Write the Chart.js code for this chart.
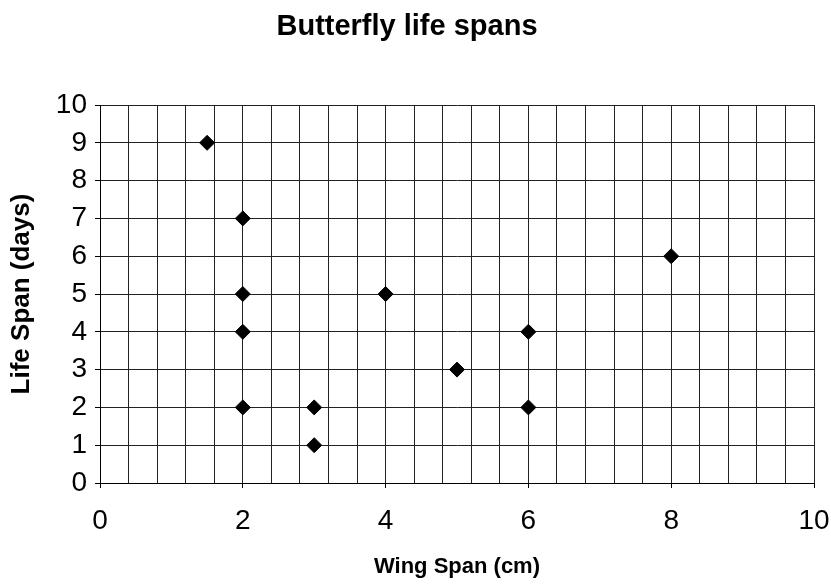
<!DOCTYPE html>
<html>
<head>
<meta charset="utf-8">
<script src="https://cdn.jsdelivr.net/npm/chart.js@4/dist/chart.umd.min.js"></script>
<style>
  html, body { margin: 0; padding: 0; background: #fff; }
  #wrap { width: 831px; height: 584px; position: relative; }
</style>
</head>
<body>
<div id="wrap"><canvas id="c" width="831" height="584"></canvas></div>
<script>
const chartTitle = "Butterfly life spans";
const xAxisTitle = "Wing Span (cm)";
const yAxisTitle = "Life Span (days)";
const wingSpan = [1.5, 2, 2, 2, 2, 3, 3, 4, 5, 6, 6, 8];
const lifeSpan = [9, 7, 5, 4, 2, 2, 1, 5, 3, 4, 2, 6];
const xMin = 0, xMax = 10, xGridStep = 0.4, xLabelStep = 2;
const yMin = 0, yMax = 10, yStep = 1;

const points = wingSpan.map((x, i) => ({ x: x, y: lifeSpan[i] }));
const FONT = "'Liberation Sans', Arial, sans-serif";

function isLabelled(v) {
  const q = v / xLabelStep;
  return Math.abs(q - Math.round(q)) < 1e-6;
}

new Chart(document.getElementById('c'), {
  type: 'scatter',
  data: {
    datasets: [{
      data: points,
      pointStyle: 'rectRot',
      pointRadius: 7.5,
      pointHoverRadius: 7.5,
      backgroundColor: '#000',
      borderColor: '#000',
      borderWidth: 1
    }]
  },
  options: {
    responsive: false,
    animation: false,
    layout: { padding: { left: 0, right: 17, top: 0, bottom: 0 } },
    plugins: {
      legend: { display: false },
      tooltip: { enabled: false },
      title: {
        display: true,
        text: chartTitle,
        color: '#000',
        font: { family: FONT, size: 29, weight: 'bold', lineHeight: 1.2 },
        padding: { top: 10, bottom: 60.2 }
      }
    },
    scales: {
      x: {
        type: 'linear',
        min: xMin,
        max: xMax,
        afterFit: s => { s.height = 101; s.paddingLeft = 0; s.paddingRight = 0; },
        ticks: {
          stepSize: xGridStep,
          autoSkip: false,
          maxRotation: 0,
          color: '#000',
          padding: 16,
          font: { family: FONT, size: 28, lineHeight: 1.2 },
          callback: v => isLabelled(v) ? String(Math.round(v)) : ''
        },
        grid: {
          color: '#222',
          lineWidth: 1,
          tickLength: 5,
          tickColor: ctx => (ctx.tick && isLabelled(ctx.tick.value)) ? '#000' : 'rgba(0,0,0,0)'
        },
        border: { color: '#000', width: 1 },
        title: {
          display: true,
          text: xAxisTitle,
          color: '#000',
          font: { family: FONT, size: 22, weight: 'bold', lineHeight: 1.2 },
          padding: { top: 0, bottom: 4 }
        }
      },
      y: {
        type: 'linear',
        min: yMin,
        max: yMax,
        afterFit: s => { s.width = 100; s.paddingTop = 0; s.paddingBottom = 0; },
        ticks: {
          stepSize: yStep,
          color: '#000',
          padding: 8,
          font: { family: FONT, size: 28, lineHeight: 1.2 }
        },
        grid: {
          color: '#222',
          lineWidth: 1,
          tickLength: 5,
          tickColor: '#000'
        },
        border: { color: '#000', width: 1 },
        title: {
          display: true,
          text: yAxisTitle,
          color: '#000',
          font: { family: FONT, size: 26, weight: 'bold', lineHeight: 1.2 },
          padding: { top: 6, bottom: 0 }
        }
      }
    }
  }
});
</script>
</body>
</html>
